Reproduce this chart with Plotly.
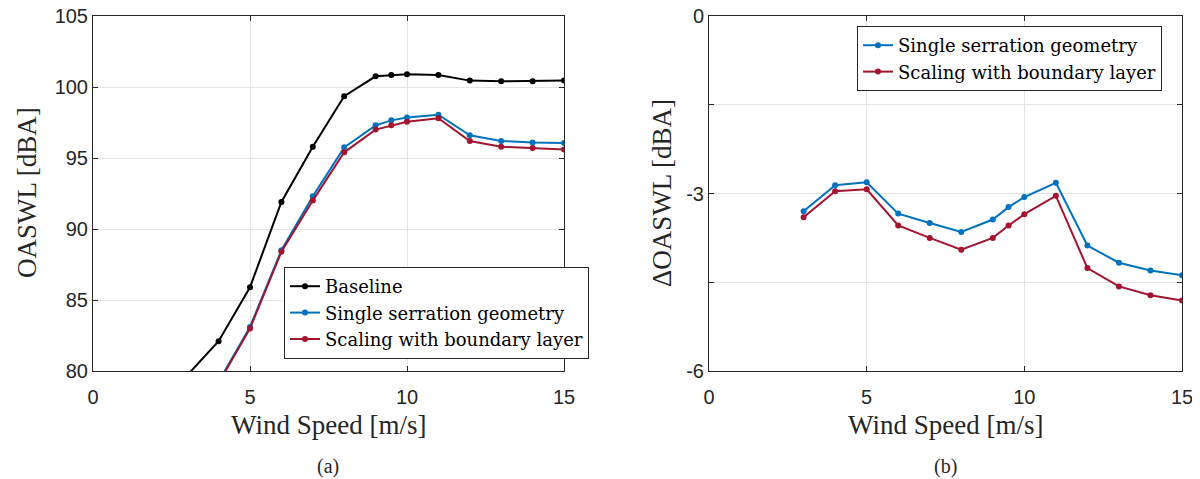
import plotly.graph_objects as go

wind = [3, 4, 5, 6, 7, 8, 9, 9.5, 10, 11, 12, 13, 14, 15]
baseline = [79.7, 82.1, 85.9, 91.9, 95.8, 99.35, 100.75, 100.85, 100.9, 100.85, 100.45, 100.4, 100.4, 100.45]
single_serr = [76.4, 79.25, 83.1, 88.5, 92.3, 95.75, 97.3, 97.65, 97.85, 98.05, 96.6, 96.2, 96.1, 96.05]
scaling_bl = [76.3, 79.15, 83.0, 88.4, 92.0, 95.4, 97.0, 97.3, 97.55, 97.8, 96.2, 95.8, 95.7, 95.6]

d_single = [-3.30, -2.86, -2.81, -3.34, -3.50, -3.65, -3.44, -3.23, -3.06, -2.82, -3.88, -4.17, -4.30, -4.38]
d_scaling = [-3.40, -2.96, -2.93, -3.54, -3.75, -3.95, -3.75, -3.54, -3.35, -3.04, -4.26, -4.57, -4.72, -4.81]

names = ["Baseline", "Single serration geometry", "Scaling with boundary layer"]
colors = ["#000000", "#0072BD", "#A2142F"]

# page body has an 8px default margin; the figure starts at (8, 8) and reaches the window edge
OFF = 8
W, H = 1200 - OFF, 479 - OFF
serif = "Liberation Serif"
legserif = "DejaVu Serif"
sans = "Liberation Sans"

fig = go.Figure()

def add(x, y, name, color, xa, ya, lg):
    fig.add_trace(go.Scatter(
        x=x, y=y, name=name, mode="lines+markers",
        line=dict(color=color, width=2),
        marker=dict(color=color, size=6),
        xaxis=xa, yaxis=ya, legend=lg, showlegend=True))

add(wind, baseline, names[0], colors[0], "x", "y", "legend")
add(wind, single_serr, names[1], colors[1], "x", "y", "legend")
add(wind, scaling_bl, names[2], colors[2], "x", "y", "legend")
add(wind, d_single, names[1], colors[1], "x2", "y2", "legend2")
add(wind, d_scaling, names[2], colors[2], "x2", "y2", "legend2")

axcol = "#262626"
gridcol = "#e3e3e3"

def px_x(p):
    return (p - OFF) / W

def px_y(p):
    return 1 - (p - OFF) / H

common = dict(showline=True, linecolor=axcol, linewidth=1, mirror="ticks",
              ticks="inside", ticklen=5, tickcolor=axcol,
              showgrid=True, gridcolor=gridcol, gridwidth=1, zeroline=False,
              tickfont=dict(family=sans, size=20, color=axcol), automargin=False,
              ticklabeloverflow="allow")

legfont = dict(family=legserif, size=18, color="#000000")

fig.update_layout(
    width=W, height=H,
    margin=dict(l=0, r=0, t=0, b=0),
    paper_bgcolor="white", plot_bgcolor="white",
    xaxis=dict(domain=[px_x(93), px_x(564)], range=[0, 15], tickvals=[0, 5, 10, 15],
               anchor="y", ticklabelstandoff=8, **common),
    yaxis=dict(domain=[px_y(371), px_y(16)], range=[80, 105],
               tickvals=[80, 85, 90, 95, 100, 105], anchor="x", **common),
    xaxis2=dict(domain=[px_x(709), px_x(1182)], range=[0, 15], tickvals=[0, 5, 10, 15],
                anchor="y2", ticklabelstandoff=8, **common),
    yaxis2=dict(domain=[px_y(371), px_y(16)], range=[-6, 0],
                tickvals=[-6, -4.5, -3, -1.5, 0], ticktext=["-6", "", "-3", "", "0"],
                anchor="x2", **common),
    legend=dict(x=px_x(284), y=px_y(267), xanchor="left", yanchor="top",
                bgcolor="white", bordercolor=axcol, borderwidth=1,
                font=legfont, tracegroupgap=0, itemwidth=30),
    legend2=dict(x=px_x(857), y=px_y(26), xanchor="left", yanchor="top",
                 bgcolor="white", bordercolor=axcol, borderwidth=1,
                 font=legfont, tracegroupgap=0, itemwidth=30),
    showlegend=True,
)

annots = [
    dict(text="OASWL [dBA]", x=px_x(27), y=px_y(193), textangle=-90, size=27),
    dict(text="ΔOASWL [dBA]", x=px_x(662), y=px_y(193), textangle=-90, size=27),
    dict(text="Wind Speed [m/s]", x=px_x(328), y=px_y(425), textangle=0, size=27),
    dict(text="Wind Speed [m/s]", x=px_x(945), y=px_y(425), textangle=0, size=27),
    dict(text="(a)", x=px_x(328), y=px_y(466), textangle=0, size=20),
    dict(text="(b)", x=px_x(945), y=px_y(466), textangle=0, size=20),
]
for a in annots:
    fig.add_annotation(text=a["text"], x=a["x"], y=a["y"], xref="paper", yref="paper",
                       xanchor="center", yanchor="middle", showarrow=False,
                       textangle=a["textangle"],
                       font=dict(family=serif, size=a["size"], color="#262626"))

fig.write_html("out.html")
